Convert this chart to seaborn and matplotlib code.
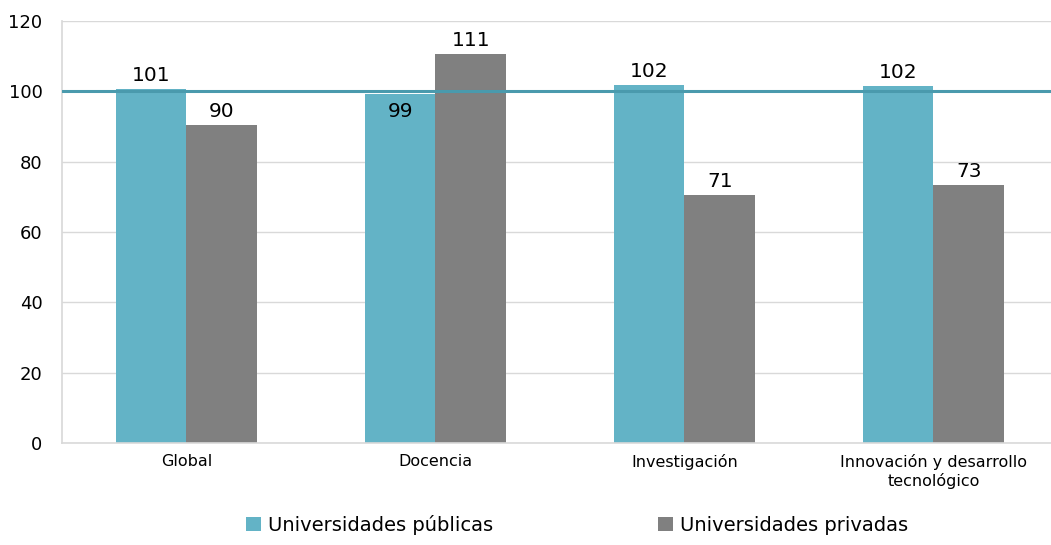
import matplotlib
matplotlib.use("Agg")
import matplotlib.pyplot as plt
import pandas as pd
import seaborn as sns
from matplotlib.patches import Patch

# Data
categorias = ["Global", "Docencia", "Investigación", "Innovación y desarrollo\ntecnológico"]
grupos = ["Universidades públicas", "Universidades privadas"]
publicas = [100.7, 99.3, 101.8, 101.6]
privadas = [90.4, 110.6, 70.6, 73.4]
referencia = 100

colores = {"Universidades públicas": "#63B3C6", "Universidades privadas": "#808080"}
color_linea = "#4A9AAD"

df = pd.DataFrame({
    "categoria": categorias * 2,
    "grupo": [grupos[0]] * len(categorias) + [grupos[1]] * len(categorias),
    "valor": publicas + privadas,
})

sns.set_theme(style="white")
plt.rcParams["font.family"] = ["DejaVu Sans"]
plt.rcParams["text.color"] = "black"

fig = plt.figure(figsize=(10.51, 5.45), dpi=100)
ax = fig.add_axes([62 / 1051, 1 - 443 / 545, 996 / 1051, 422 / 545])

sns.barplot(data=df, x="categoria", y="valor", hue="grupo", palette=colores,
            width=0.57, saturation=1, legend=False, ax=ax, zorder=2,
            linewidth=0, edgecolor="none")

ax.axhline(referencia, color=color_linea, linewidth=2.2, zorder=3)

# Value labels (a label just under the reference line goes inside the bar)
for cont in ax.containers:
    for barra in cont:
        v = barra.get_height()
        x = barra.get_x() + barra.get_width() / 2
        if referencia - 3 < v < referencia:
            ax.annotate(f"{v:.0f}", (x, v), xytext=(0, -6), textcoords="offset points",
                        ha="center", va="top", fontsize=14.5, color="black", zorder=4)
        else:
            ax.annotate(f"{v:.0f}", (x, v), xytext=(0, 3), textcoords="offset points",
                        ha="center", va="bottom", fontsize=14.5, color="black", zorder=4)

ax.set_ylim(0, 120)
ax.set_yticks(range(0, 121, 20))
ax.set_xlim(-0.5, len(categorias) - 0.5)
ax.yaxis.grid(True, color="#D9D9D9", linewidth=1, zorder=0)
ax.set_axisbelow(True)
for lado in ["top", "right"]:
    ax.spines[lado].set_visible(False)
ax.spines["left"].set_color("#D9D9D9")
ax.spines["bottom"].set_color("#D9D9D9")
ax.spines["bottom"].set_linewidth(1.2)
ax.tick_params(axis="y", labelsize=13, length=0, pad=14, labelcolor="black")
ax.tick_params(axis="x", labelsize=11.5, length=0, pad=8, labelcolor="black")
ax.set_xlabel("")
ax.set_ylabel("")

handles = [Patch(facecolor=colores[g], edgecolor="none") for g in grupos]
fig.legend(handles, grupos, loc="center", bbox_to_anchor=(577 / 1051, 1 - 525 / 545),
           ncol=2, frameon=False, fontsize=14, handlelength=0.75, handleheight=0.75,
           handletextpad=0.35, columnspacing=8.5, labelcolor="black")

fig.savefig("out.png", dpi=100)
